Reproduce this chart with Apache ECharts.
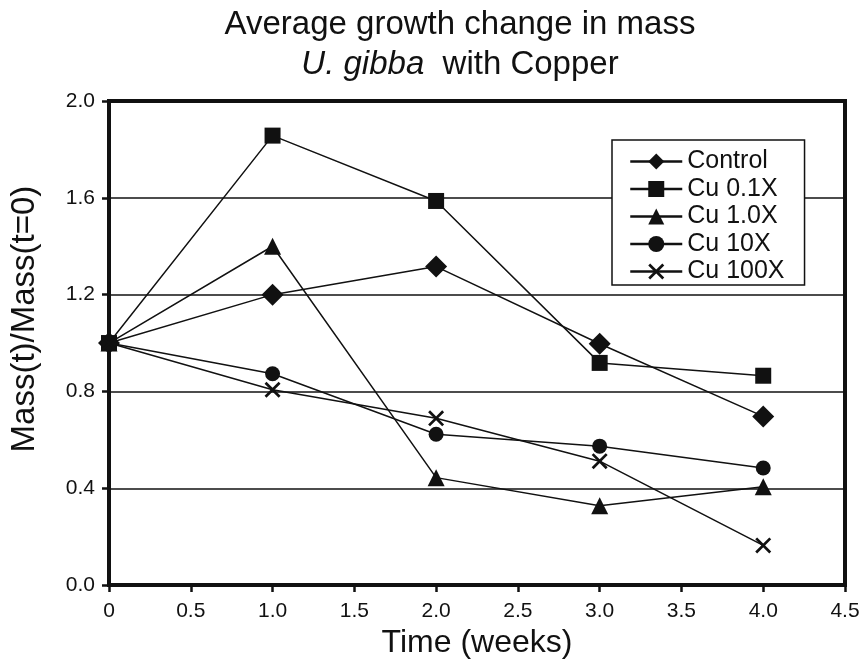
<!DOCTYPE html>
<html><head><meta charset="utf-8">
<script src="https://cdn.jsdelivr.net/npm/echarts@6/dist/echarts.min.js"></script>
<style>html,body{margin:0;padding:0;background:#fff}#c{width:866px;height:664px}</style>
</head><body><div id="c"></div>
<script>
const weeks = [0, 1, 2, 3, 4];
const seriesNames = ['Control', 'Cu 0.1X', 'Cu 1.0X', 'Cu 10X', 'Cu 100X'];
const control = [1.0, 1.2, 1.316, 0.997, 0.697];
const cu01 = [1.0, 1.857, 1.587, 0.918, 0.865];
const cu10 = [1.0, 1.40, 0.444, 0.328, 0.406];
const cu10x = [1.0, 0.873, 0.623, 0.574, 0.484];
const cu100 = [1.0, 0.807, 0.689, 0.512, 0.164];
const xTickLabels = {0:'0',0.5:'0.5',1:'1.0',1.5:'1.5',2:'2.0',2.5:'2.5',3:'3.0',3.5:'3.5',4:'4.0',4.5:'4.5'};
const yTickLabels = {0:'0.0',0.4:'0.4',0.8:'0.8',1.2:'1.2',1.6:'1.6',2:'2.0'};

const FONT = '"Liberation Sans", Arial, sans-serif';
const crossPath = 'path://M0,1.2L1.2,0L10,8.8L8.8,10Z M8.8,0L10,1.2L1.2,10L0,8.8Z';
const styles = [
  {symbol: 'diamond', size: 22},
  {symbol: 'rect', size: 16},
  {symbol: 'triangle', size: 17},
  {symbol: 'circle', size: 15},
  {symbol: crossPath, size: 16}
];
const datasets = [control, cu01, cu10, cu10x, cu100];

const chart = echarts.init(document.getElementById('c'), null, {renderer: 'canvas'});
chart.setOption({
  animation: false,
  backgroundColor: '#fff',
  title: {
    text: '{a|Average growth change in mass}\n{i|U. gibba}{a|  with Copper}',
    left: 460, top: 5, padding: 0, textAlign: 'center',
    textStyle: {
      rich: {
        a: {fontFamily: FONT, fontSize: 33, fontWeight: 'normal', color: '#111', lineHeight: 40},
        i: {fontFamily: FONT, fontSize: 33, fontWeight: 'normal', color: '#111', fontStyle: 'italic', lineHeight: 40}
      }
    }
  },
  grid: {left: 106, right: 21, top: 101, bottom: 75, show: true, borderColor: '#111', borderWidth: 4},
  legend: {
    orient: 'vertical', left: 612, top: 140,
    backgroundColor: '#fff', borderColor: '#111', borderWidth: 1.5,
    padding: [9, 20, 1, 17], itemGap: 2.5, itemWidth: 52, itemHeight: 20,
    textStyle: {fontFamily: FONT, fontSize: 25, color: '#111'},
    lineStyle: {width: 2.5, color: '#111'},
    data: seriesNames
  },
  xAxis: {
    type: 'value', min: 0, max: 4.5, interval: 0.5,
    name: 'Time (weeks)', nameLocation: 'middle', nameGap: 39,
    nameTextStyle: {fontFamily: FONT, fontSize: 32, color: '#111'},
    axisLine: {lineStyle: {color: '#111', width: 4}},
    axisTick: {show: true, length: 7, lineStyle: {color: '#111', width: 2.5}},
    axisLabel: {fontFamily: FONT, fontSize: 21, color: '#111', margin: 16,
      formatter: v => xTickLabels[v] !== undefined ? xTickLabels[v] : String(v)},
    splitLine: {show: false}
  },
  yAxis: {
    type: 'value', min: 0, max: 2.0, interval: 0.4,
    name: 'Mass(t)/Mass(t=0)', nameLocation: 'middle', nameGap: 68,
    nameTextStyle: {fontFamily: FONT, fontSize: 33, color: '#111', padding: [0, 0, 0, 48]},
    axisLine: {lineStyle: {color: '#111', width: 4}},
    axisTick: {show: true, length: 7, lineStyle: {color: '#111', width: 2.5}},
    axisLabel: {fontFamily: FONT, fontSize: 21, color: '#111', margin: 14,
      formatter: v => { const k = Math.round(v * 10) / 10; return yTickLabels[k] !== undefined ? yTickLabels[k] : v.toFixed(1); }},
    splitLine: {show: true, lineStyle: {color: '#111', width: 1.5}}
  },
  series: seriesNames.map((n, i) => ({
    name: n, type: 'line',
    data: weeks.map((w, j) => [w, datasets[i][j]]),
    symbol: styles[i].symbol, symbolSize: styles[i].size,
    showAllSymbol: true,
    lineStyle: {color: '#111', width: 1.5},
    itemStyle: {color: '#111', borderColor: '#111', borderWidth: 0},
    emphasis: {disabled: true}
  }))
});
</script></body></html>
